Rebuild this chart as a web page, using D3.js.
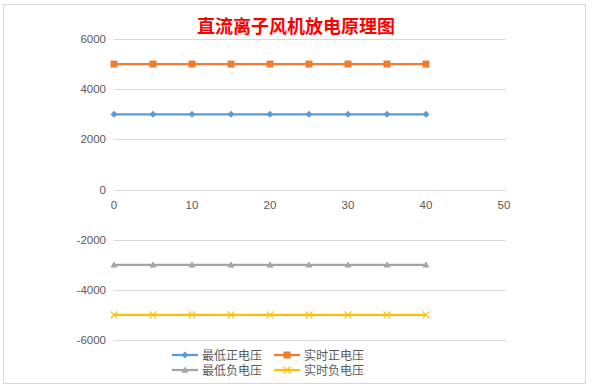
<!DOCTYPE html>
<html>
<head>
<meta charset="utf-8">
<script src="https://cdn.jsdelivr.net/npm/d3@7"></script>
<style>
body { margin: 0; background: #fff; }
text { font-family: "Liberation Sans", "Noto Sans CJK SC", sans-serif; }
</style>
</head>
<body>
<svg id="chart" width="592" height="388"></svg>
<script>
// chart data
var xValues = [0, 5, 10, 15, 20, 25, 30, 35, 40];
var seriesNames = ["最低正电压", "实时正电压", "最低负电压", "实时负电压"];
var minPositive = [3000, 3000, 3000, 3000, 3000, 3000, 3000, 3000, 3000];
var livePositive = [5000, 5000, 5000, 5000, 5000, 5000, 5000, 5000, 5000];
var minNegative = [-3000, -3000, -3000, -3000, -3000, -3000, -3000, -3000, -3000];
var liveNegative = [-5000, -5000, -5000, -5000, -5000, -5000, -5000, -5000, -5000];
var yTicks = [-6000, -4000, -2000, 0, 2000, 4000, 6000];
var xTicks = [0, 10, 20, 30, 40, 50];

var colors = ["#5B9BD5", "#ED7D31", "#A5A5A5", "#FFC000"];
var markers = ["diamond", "square", "triangle", "cross"];
var seriesValues = [minPositive, livePositive, minNegative, liveNegative];

var svg = d3.select("svg#chart");

// outer chart border
svg.append("rect")
.attr("x", 3.5).attr("y", 4.5)
.attr("width", 582).attr("height", 379)
.attr("fill", "#fff")
.attr("stroke", "#d9d9d9");

var x = d3.scaleLinear().domain([0, 50]).range([114, 504]);
var y = d3.scaleLinear().domain([-6000, 6000]).range([340, 39]);

// gridlines
svg.append("g")
.selectAll("line")
.data(yTicks)
.enter().append("line")
.attr("x1", 114).attr("x2", 506)
.attr("y1", d => Math.round(y(d)) + 0.5)
.attr("y2", d => Math.round(y(d)) + 0.5)
.attr("stroke", "#d9d9d9")
.attr("stroke-width", 1);

// y labels
svg.append("g")
.selectAll("text")
.data(yTicks)
.enter().append("text")
.attr("x", 106)
.attr("y", d => y(d) + 4)
.attr("text-anchor", "end")
.attr("font-size", 11.5)
.attr("fill", "#595959")
.text(d => d);

// x labels, sitting under the zero line
svg.append("g")
.selectAll("text")
.data(xTicks)
.enter().append("text")
.attr("x", d => x(d))
.attr("y", y(0) + 19)
.attr("text-anchor", "middle")
.attr("font-size", 11.5)
.attr("fill", "#595959")
.text(d => d);

function drawMarker(g, type, color, size) {
    if (type === "diamond") {
        g.append("path")
        .attr("d", `M0,${-size}L${size},0L0,${size}L${-size},0Z`)
        .attr("fill", color);
    } else if (type === "square") {
        g.append("rect")
        .attr("x", -size).attr("y", -size)
        .attr("width", size * 2).attr("height", size * 2)
        .attr("fill", color);
    } else if (type === "triangle") {
        g.append("path")
        .attr("d", `M0,${-size}L${size},${size * 0.8}L${-size},${size * 0.8}Z`)
        .attr("fill", color);
    } else {
        g.append("path")
        .attr("d", `M${-size},${-size}L${size},${size}M${size},${-size}L${-size},${size}`)
        .attr("stroke", color)
        .attr("stroke-width", 1.2)
        .attr("fill", "none");
    }
}

var line = d3.line()
.x(d => x(d[0]))
.y(d => y(d[1]));

seriesValues.forEach(function (vals, i) {
    var pts = xValues.map((xv, j) => [xv, vals[j]]);
    svg.append("path")
    .datum(pts)
    .attr("d", line)
    .attr("fill", "none")
    .attr("stroke", colors[i])
    .attr("stroke-width", 2.25);

    svg.append("g")
    .selectAll("g")
    .data(pts)
    .enter().append("g")
    .attr("transform", d => `translate(${x(d[0])},${y(d[1])})`)
    .each(function () {
        drawMarker(d3.select(this), markers[i], colors[i], 3.5);
    });
});

// title
svg.append("text")
.attr("x", 296)
.attr("y", 33)
.attr("text-anchor", "middle")
.attr("font-family", "'Noto Sans CJK SC', sans-serif")
.attr("font-weight", "bold")
.attr("font-size", 18)
.attr("fill", "#ff0000")
.text("直流离子风机放电原理图");

// legend
var legendPos = [[172, 355], [274, 355], [172, 370], [274, 370]];
seriesNames.forEach(function (name, i) {
    var lg = svg.append("g")
    .attr("transform", `translate(${legendPos[i][0]},${legendPos[i][1]})`);
    lg.append("line")
    .attr("x1", 0).attr("x2", 26)
    .attr("stroke", colors[i])
    .attr("stroke-width", 2.25);
    var m = lg.append("g").attr("transform", "translate(13,0)");
    drawMarker(m, markers[i], colors[i], 3.5);
    lg.append("text")
    .attr("x", 30)
    .attr("y", 4.5)
    .attr("font-family", "'Noto Sans CJK SC', sans-serif")
    .attr("font-size", 12)
    .attr("fill", "#595959")
    .text(name);
});
</script>
</body>
</html>
